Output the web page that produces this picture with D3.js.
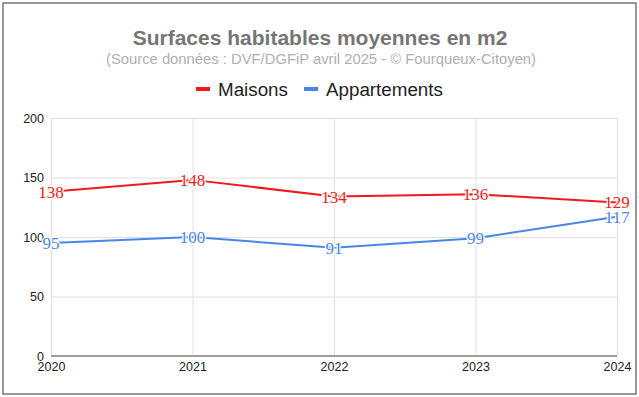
<!DOCTYPE html>
<html>
<head>
<meta charset="utf-8">
<script src="https://cdn.jsdelivr.net/npm/d3@7"></script>
<style>
  body { margin: 0; background: #fff; }
  svg { display: block; font-family: "Liberation Sans", Arial, sans-serif; }
</style>
</head>
<body>
<svg id="chart" width="639" height="397"></svg>
<script>
const years = [2020, 2021, 2022, 2023, 2024];
const maisons = [138, 148, 134, 136, 129];
const appartements = [95, 100, 91, 99, 117];
const yTicks = [0, 50, 100, 150, 200];

const seriesList = [
    { name: 'Maisons', values: maisons, color: '#f01a1a' },
    { name: 'Appartements', values: appartements, color: '#4a86e8' }
];

const svg = d3.select('#chart');
const W = 639, H = 397;
const plotLeft = 51, plotRight = 617, plotTop = 118, plotBottom = 356;

// cadre
svg.append('rect')
    .attr('x', 3).attr('y', 3)
    .attr('width', W - 6).attr('height', H - 6)
    .attr('fill', '#fff')
    .attr('stroke', '#777')
    .attr('stroke-width', 1.5);

const x = d3.scalePoint().domain(years).range([plotLeft, plotRight]);
const y = d3.scaleLinear().domain([0, 200]).range([plotBottom, plotTop]);

// titres
svg.append('text')
    .attr('x', 320).attr('y', 45)
    .attr('text-anchor', 'middle')
    .attr('font-size', 21).attr('font-weight', 'bold')
    .attr('fill', '#757575')
    .text('Surfaces habitables moyennes en m2');

svg.append('text')
    .attr('x', 321).attr('y', 64)
    .attr('text-anchor', 'middle')
    .attr('font-size', 14.8)
    .attr('fill', '#b0b0b0')
    .text('(Source données : DVF/DGFiP avril 2025 - © Fourqueux-Citoyen)');

// légende
const legendX = [196, 304];
seriesList.forEach((s, i) => {
    svg.append('rect')
        .attr('x', legendX[i]).attr('y', 87)
        .attr('width', 14).attr('height', 4)
        .attr('fill', s.color);
    svg.append('text')
        .attr('x', legendX[i] + 22).attr('y', 95.5)
        .attr('font-size', 18.8)
        .attr('fill', '#222')
        .text(s.name);
});

// grille horizontale + labels y
const yAxis = svg.append('g')
    .attr('transform', `translate(${plotLeft},0)`)
    .call(d3.axisLeft(y).tickValues(yTicks).tickSize(-(plotRight - plotLeft)).tickPadding(7));
yAxis.select('.domain').remove();
yAxis.selectAll('.tick line').attr('stroke', '#e0e0e0');
yAxis.selectAll('.tick text')
    .attr('font-size', 12.5)
    .attr('font-family', '"Liberation Sans", Arial, sans-serif')
    .attr('fill', '#222');

// grille verticale + labels x
const xAxis = svg.append('g')
    .attr('transform', `translate(0,${plotBottom})`)
    .call(d3.axisBottom(x).tickSize(-(plotBottom - plotTop)).tickPadding(6).tickFormat(d3.format('d')));
xAxis.select('.domain').remove();
xAxis.selectAll('.tick line').attr('stroke', '#e0e0e0');
xAxis.selectAll('.tick text')
    .attr('font-size', 12.5)
    .attr('font-family', '"Liberation Sans", Arial, sans-serif')
    .attr('fill', '#222');

// ligne de base
svg.append('line')
    .attr('x1', plotLeft).attr('x2', plotRight)
    .attr('y1', y(0)).attr('y2', y(0))
    .attr('stroke', '#9e9e9e')
    .attr('stroke-width', 2);

const line = d3.line()
    .x((d, i) => x(years[i]))
    .y(d => y(d));

seriesList.forEach(s => {
    svg.append('path')
        .datum(s.values)
        .attr('d', line)
        .attr('fill', 'none')
        .attr('stroke', s.color)
        .attr('stroke-width', 2);
});

// étiquettes de valeurs
seriesList.forEach(s => {
    svg.append('g')
        .selectAll('text')
        .data(s.values)
        .join('text')
        .attr('x', (d, i) => x(years[i]))
        .attr('y', d => y(d) + 6)
        .attr('text-anchor', 'middle')
        .attr('font-family', '"Liberation Serif", "Times New Roman", serif')
        .attr('font-size', 17)
        .attr('fill', s.color)
        .attr('stroke', '#fff')
        .attr('stroke-width', 2.5)
        .attr('paint-order', 'stroke')
        .text(d => d);
});
</script>
</body>
</html>
